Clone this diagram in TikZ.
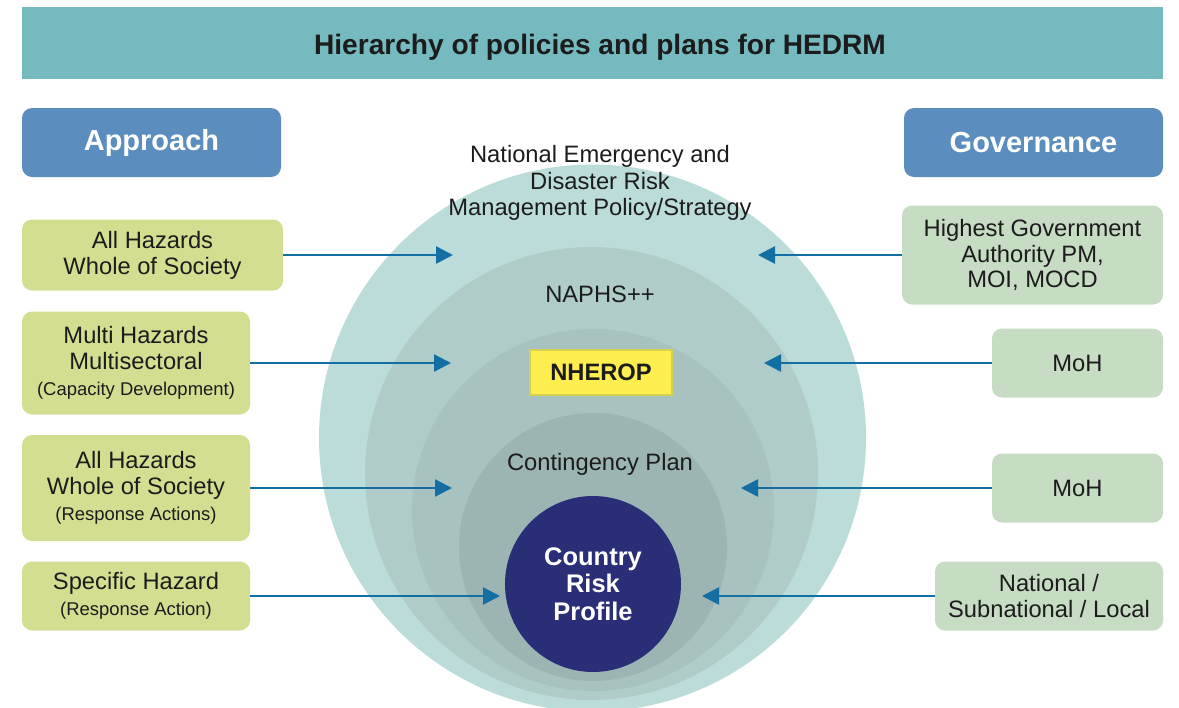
\documentclass[tikz,border=0pt]{standalone}
\usepackage{fontspec}
\setmainfont{Liberation Sans}
\usetikzlibrary{arrows.meta,positioning}

\definecolor{barteal}{HTML}{74BABE}
\definecolor{headblue}{HTML}{5B8DBE}
\definecolor{appgreen}{HTML}{D4DE91}
\definecolor{govgreen}{HTML}{C6DCC3}
\definecolor{feedblue}{HTML}{126EA3}
\definecolor{ringA}{HTML}{BCDCDA}
\definecolor{ringB}{HTML}{B0CCC9}
\definecolor{ringC}{HTML}{A7C2BF}
\definecolor{ringD}{HTML}{9CB5B2}
\definecolor{corenavy}{HTML}{2A2E76}
\definecolor{planyellow}{HTML}{FFEE50}
\definecolor{planedge}{HTML}{D2D250}
\definecolor{inkgray}{HTML}{1C1C1C}

\newcommand\subnote[1]{{\fontsize{10.5}{14.7}\selectfont #1}}

\begin{document}
\begin{tikzpicture}[
	headbox/.style={rectangle, rounded corners=0.2cm, fill=headblue, text=white,
		minimum width=5.18cm, minimum height=1.38cm, font=\fontsize{16.5}{18}\selectfont\bfseries},
	appbox/.style={rectangle, rounded corners=0.2cm, fill=appgreen, text=inkgray, align=center,
		inner sep=0pt, font=\fontsize{13.5}{14.7}\selectfont},
	govbox/.style={appbox, fill=govgreen},
	ring/.style={circle, inner sep=0pt},
	ringtext/.style={align=center, text=inkgray, font=\fontsize{13.5}{15}\selectfont},
	feed/.style={-{Triangle[length=0.34cm,width=0.34cm,fill=feedblue]}, line width=1.4pt, draw=feedblue}
]
	\useasboundingbox (0,0) rectangle (23.58,-14.14);

	% heading
	\node (bar) at (11.85,-0.86) [rectangle, fill=barteal, minimum width=22.82cm, minimum height=1.44cm] {};
	\node (title) at (12.0,-0.94) [text=inkgray, font=\fontsize{16}{18}\selectfont\bfseries] {Hierarchy of policies and plans for HEDRM};

	\node (approach) at (3.03,-2.85) [headbox] {Approach};
	\node (governance) at (20.67,-2.85) [headbox] {Governance};

	% nested plans
	\node (policy) at (11.85,-8.76) [ring, fill=ringA, minimum size=10.94cm] {};
	\node (naphs) at (11.83,-9.47) [ring, fill=ringB, minimum size=9.06cm] {};
	\node (nherop) at (11.86,-10.20) [ring, fill=ringC, minimum size=7.24cm] {};
	\node (contingency) at (11.86,-10.94) [ring, fill=ringD, minimum size=5.36cm] {};
	\node (profile) at (11.86,-11.68) [ring, fill=corenavy, minimum size=3.52cm, align=center,
		text=white, font=\fontsize{14.5}{15.5}\selectfont\bfseries] {Country\\Risk\\Profile};

	\node (policytxt) at (12.0,-3.66) [ringtext] {National Emergency and\\Disaster Risk\\Management Policy/Strategy};
	\node (naphstxt) at (12.0,-5.88) [ringtext] {NAPHS++};
	\node (nheroptxt) at (12.02,-7.45) [rectangle, fill=planyellow, draw=planedge, line width=0.6pt,
		minimum width=2.84cm, minimum height=0.9cm, text=inkgray, font=\fontsize{13.5}{15}\selectfont\bfseries] {NHEROP};
	\node (contingencytxt) at (12.0,-9.28) [ringtext] {Contingency Plan};

	% approach side
	\node (L1) at (3.05,-5.10) [appbox, minimum width=5.22cm, minimum height=1.42cm] {All Hazards\\Whole of Society};
	\node (L2) at (2.72,-7.26) [appbox, minimum width=4.56cm, minimum height=2.06cm] {Multi Hazards\\Multisectoral\\\subnote{(Capacity Development)}};
	\node (L3) at (2.72,-9.76) [appbox, minimum width=4.56cm, minimum height=2.12cm] {All Hazards\\Whole of Society\\\subnote{(Response Actions)}};
	\node (L4) at (2.72,-11.92) [appbox, minimum width=4.56cm, minimum height=1.38cm] {Specific Hazard\\\subnote{(Response Action)}};

	% governance side
	\node (R1) at (20.65,-5.10) [govbox, minimum width=5.22cm, minimum height=1.98cm] {Highest Government\\Authority PM,\\MOI, MOCD};
	\node (R2) at (21.55,-7.26) [govbox, minimum width=3.42cm, minimum height=1.38cm] {MoH};
	\node (R3) at (21.55,-9.76) [govbox, minimum width=3.42cm, minimum height=1.38cm] {MoH};
	\node (R4) at (20.98,-11.92) [govbox, minimum width=4.56cm, minimum height=1.38cm] {National /\\Subnational / Local};

	% arrow ends inside the rings
	\coordinate (inL1) at (9.06,-5.10);
	\coordinate (inL2) at (9.02,-7.26);
	\coordinate (inL3) at (9.04,-9.76);
	\coordinate (inL4) at (10.00,-11.92);
	\coordinate (inR1) at (15.16,-5.10);
	\coordinate (inR2) at (15.28,-7.26);
	\coordinate (inR3) at (14.82,-9.76);
	\coordinate (inR4) at (14.04,-11.92);

	\path[feed] (L1) edge (inL1);
	\path[feed] (L2) edge (inL2);
	\path[feed] (L3) edge (inL3);
	\path[feed] (L4) edge (inL4);

	\path[feed] (R1) edge (inR1);
	\path[feed] (R2) edge (inR2);
	\path[feed] (R3) edge (inR3);
	\path[feed] (R4) edge (inR4);
\end{tikzpicture}
\end{document}
